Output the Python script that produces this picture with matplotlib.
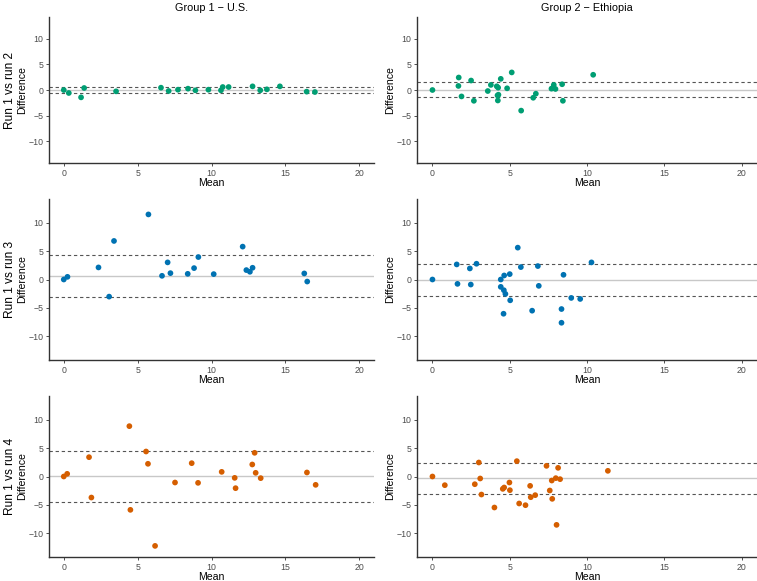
import matplotlib
matplotlib.use("Agg")
import matplotlib.pyplot as plt
import numpy as np

plt.rcParams['font.family'] = ['Liberation Sans', 'DejaVu Sans']

col_titles = ["Group 1 \u2212 U.S.", "Group 2 \u2212 Ethiopia"]
row_titles = ["Run 1 vs run 2", "Run 1 vs run 3", "Run 1 vs run 4"]
row_colors = ["#009E73", "#0072B2", "#D55E00"]

# Row 1 (run 1 vs run 2)
us_r2_mean = [0, 0.34, 1.17, 1.38, 3.54, 6.58, 7.10, 7.73, 8.41, 8.91, 9.79, 10.64, 10.76, 11.16, 12.78, 13.30, 13.75, 14.63, 16.44, 17.00]
us_r2_diff = [0, -0.58, -1.43, 0.39, -0.26, 0.45, -0.19, 0.06, 0.26, -0.06, 0.06, -0.06, 0.58, 0.58, 0.71, -0.06, 0.13, 0.71, -0.32, -0.39]
us_r2_bias, us_r2_lo, us_r2_hi = 0.0, -0.55, 0.55

et_r2_mean = [0, 1.70, 1.68, 1.88, 2.50, 2.68, 3.58, 3.78, 4.16, 4.25, 4.21, 4.27, 4.23, 4.42, 4.83, 5.13, 5.74, 6.52, 6.69, 7.70, 7.85, 7.80, 7.96, 8.39, 8.44, 10.40]
et_r2_diff = [0, 2.43, 0.79, -1.25, 1.84, -2.10, -0.20, 0.99, 0.72, 0.46, -1.05, -0.92, -2.04, 2.17, 0.33, 3.42, -4.01, -1.51, -0.72, 0.26, 0.99, 0.35, 0.20, 1.12, -2.10, 2.96]
et_r2_bias, et_r2_lo, et_r2_hi = 0.04, -1.42, 1.52

# Row 2 (run 1 vs run 3)
us_r3_mean = [0, 0.25, 2.35, 3.07, 3.40, 5.73, 6.65, 7.03, 7.22, 8.39, 8.82, 9.11, 10.15, 12.11, 12.36, 12.60, 12.78, 16.28, 16.48]
us_r3_diff = [0, 0.47, 2.13, -3.02, 6.80, 11.48, 0.65, 3.02, 1.12, 1.00, 2.01, 3.96, 0.95, 5.80, 1.66, 1.36, 2.07, 1.07, -0.36]
us_r3_bias, us_r3_lo, us_r3_hi = 0.6, -3.13, 4.33

et_r3_mean = [0, 1.57, 1.62, 2.42, 2.48, 2.85, 4.42, 4.64, 5.00, 4.42, 4.62, 4.72, 5.03, 4.60, 5.52, 5.72, 6.45, 6.82, 6.88, 8.35, 8.35, 8.48, 8.98, 9.56, 10.29]
et_r3_diff = [0, 2.66, -0.77, 1.95, -0.89, 2.78, 0, 0.71, 0.95, -1.30, -1.89, -2.54, -3.67, -6.04, 5.62, 2.19, -5.50, 2.37, -1.12, -5.21, -7.63, 0.83, -3.25, -3.43, 3.02]
et_r3_bias, et_r3_lo, et_r3_hi = -0.1, -2.96, 2.72

# Row 3 (run 1 vs run 4)
us_r4_mean = [0, 0.23, 1.71, 1.87, 4.44, 4.51, 5.57, 5.70, 6.18, 7.53, 8.66, 9.09, 10.69, 11.57, 11.63, 12.76, 12.92, 12.99, 13.33, 16.46, 17.05]
us_r4_diff = [0, 0.47, 3.41, -3.71, 8.88, -5.88, 4.41, 2.24, -12.24, -1.06, 2.35, -1.12, 0.82, -0.24, -2.06, 2.12, 4.18, 0.65, -0.29, 0.71, -1.47]
us_r4_bias, us_r4_lo, us_r4_hi = 0.03, -4.5, 4.53

et_r4_mean = [0, 0.80, 2.74, 3.00, 3.09, 3.17, 4.01, 4.55, 4.64, 4.98, 5.01, 5.46, 5.61, 6.02, 6.32, 6.36, 6.65, 7.38, 7.59, 7.75, 7.72, 7.98, 8.13, 8.26, 8.03, 11.35]
et_r4_diff = [0, -1.53, -1.36, 2.47, -0.35, -3.18, -5.47, -2.18, -1.94, -1.06, -2.41, 2.71, -4.76, -5.06, -1.65, -3.65, -3.29, 1.88, -2.47, -3.94, -0.71, -0.29, 1.53, -0.47, -8.53, 1.00]
et_r4_bias, et_r4_lo, et_r4_hi = -0.35, -3.0, 2.35

panels = [
    [(us_r2_mean, us_r2_diff, us_r2_bias, us_r2_lo, us_r2_hi),
     (et_r2_mean, et_r2_diff, et_r2_bias, et_r2_lo, et_r2_hi)],
    [(us_r3_mean, us_r3_diff, us_r3_bias, us_r3_lo, us_r3_hi),
     (et_r3_mean, et_r3_diff, et_r3_bias, et_r3_lo, et_r3_hi)],
    [(us_r4_mean, us_r4_diff, us_r4_bias, us_r4_lo, us_r4_hi),
     (et_r4_mean, et_r4_diff, et_r4_bias, et_r4_lo, et_r4_hi)],
]

W, H = 757, 581
fig = plt.figure(figsize=(W / 100, H / 100), dpi=100)

col_x = [(49, 374), (417, 757)]
row_y = [(17, 163), (199, 360), (396, 557)]

def rect(x0, x1, y0, y1):
    return [x0 / W, 1 - y1 / H, (x1 - x0) / W, (y1 - y0) / H]

tick_col = "#4D4D4D"
for r in range(3):
    for c in range(2):
        x0, x1 = col_x[c]
        y0, y1 = row_y[r]
        ax = fig.add_axes(rect(x0, x1, y0, y1))
        m, d, bias, lo, hi = panels[r][c]
        ax.axhline(bias, color="#C8C8C8", lw=1.0, zorder=1)
        ax.axhline(lo, color="#555555", lw=0.8, ls=(0, (3, 2.5)), zorder=1)
        ax.axhline(hi, color="#555555", lw=0.8, ls=(0, (3, 2.5)), zorder=1)
        ax.scatter(m, d, s=17, color=row_colors[r], edgecolors="none", zorder=3)
        ax.set_xlim(-1, 21)
        ax.set_ylim(-14.2, 14.2)
        ax.set_xticks([0, 5, 10, 15, 20])
        ax.set_yticks([-10, -5, 0, 5, 10])
        ax.set_yticklabels(["\u221210", "\u22125", "0", "5", "10"])
        for s in ["top", "right"]:
            ax.spines[s].set_visible(False)
        for s in ["left", "bottom"]:
            ax.spines[s].set_color("#333333")
            ax.spines[s].set_linewidth(1.0)
        ax.tick_params(axis="both", length=2.5, width=0.6, color="#333333",
                       labelcolor=tick_col, labelsize=6.3, pad=1.5)
        ax.set_xlabel("Mean", fontsize=7.6, labelpad=0.5)
        ax.set_ylabel("Difference", fontsize=7.6, labelpad=1)
        ax.patch.set_alpha(0)

for c in range(2):
    x0, x1 = col_x[c]
    fig.text(((x0 + x1) / 2) / W, 1 - 8 / H, col_titles[c], ha="center", va="center", fontsize=7.8)

for r in range(3):
    y0, y1 = row_y[r]
    fig.text(10 / W, 1 - ((y0 + y1) / 2) / H, row_titles[r], ha="center", va="center",
             rotation=90, fontsize=8.6)

fig.savefig("out.png", dpi=100)
